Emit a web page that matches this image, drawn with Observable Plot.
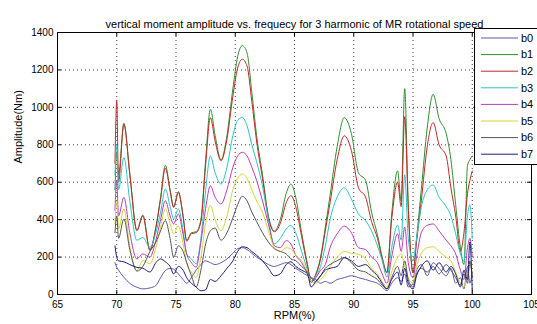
<!DOCTYPE html>
<html><head><meta charset="utf-8">
<script src="https://cdn.jsdelivr.net/npm/d3@7"></script>
<script src="https://cdn.jsdelivr.net/npm/@observablehq/plot@0.6"></script>
<style>
body{margin:0;background:#fff;}
#wrap{position:relative;width:537px;height:324px;overflow:hidden;font-family:"Liberation Sans",Arial,sans-serif;background:#fff;}
#legend{position:absolute;left:474px;top:28px;width:80px;height:137px;background:#fff;border:1px solid #000;box-sizing:border-box;}
#legend svg{display:block;}
</style>
</head><body>
<div id="wrap"><div id="chart"></div><div id="legend"></div></div>
<script>
const title = "vertical moment amplitude vs. frequecy for 3 harmonic of MR rotational speed";
const xLabel = "RPM(%)";
const yLabel = "Amplitude(Nm)";
const xTicks = [65,70,75,80,85,90,95,100,105];
const yTicks = [0,200,400,600,800,1000,1200,1400];
const seriesNames = ["b0","b1","b2","b3","b4","b5","b6","b7"];
const seriesColors = ["#5a5aa8","#2f8f2f","#c02a2a","#2cc4c4","#b83cb8","#d6d632","#555555","#1c1c82"];

const rpm = [69.85,70.0,70.15,70.6,71.1,71.7,72.2,72.8,73.3,73.7,74.1,74.5,74.8,75.2,75.6,75.9,76.3,76.7,77.1,77.5,77.9,78.3,78.8,79.3,79.8,80.2,80.6,81.0,81.4,81.8,82.3,82.8,83.3,83.8,84.3,84.7,85.1,85.6,86.1,86.4,86.8,87.2,87.6,88.0,88.6,89.2,89.8,90.4,91.0,91.5,92.0,92.4,92.8,93.2,93.7,94.0,94.3,94.6,95.0,95.3,95.7,96.2,96.7,97.2,97.8,98.2,98.6,99.0,99.3,99.6,99.8,100.0];
const b0 = [170,146,130,92,60,39,30,35,48,90,128,139,135,110,80,60,90,130,160,180,170,160,170,190,220,245,250,240,220,200,180,160,150,160,170,160,140,120,100,90,80,60,70,60,80,90,100,90,80,70,60,40,20,60,90,70,110,40,60,130,160,100,170,140,100,140,60,90,30,150,60,120];
const b1 = [560,760,640,915,650,345,425,240,360,520,690,560,470,550,420,290,330,335,400,720,990,850,720,850,1100,1270,1330,1290,1080,850,640,420,340,400,540,590,520,330,160,70,110,200,360,530,790,945,860,650,610,440,320,200,120,430,660,500,1100,480,120,300,560,890,1070,940,860,720,480,250,160,690,720,740];
const b2 = [700,1035,600,910,640,340,420,235,355,510,675,555,465,545,415,285,325,330,390,690,945,820,715,830,1060,1210,1257,1220,1030,820,620,410,335,380,490,528,470,310,150,70,105,190,340,490,720,848,770,570,520,390,300,190,115,400,600,470,950,460,115,280,500,790,919,800,740,570,420,230,330,540,610,660];
const b3 = [640,800,560,732,500,290,305,252,330,440,564,470,404,457,340,217,190,164,300,555,741,650,590,680,850,930,946,900,800,710,580,400,270,300,350,368,330,230,128,66,100,150,260,400,520,570,510,430,395,340,260,181,92,250,370,290,640,300,181,300,466,560,585,520,470,420,324,217,180,420,480,300];
const b4 = [450,610,420,519,330,190,217,199,290,400,501,420,377,430,320,217,170,146,280,460,581,520,484,560,680,740,760,740,680,610,500,377,260,250,288,270,210,170,110,66,90,130,160,250,324,365,330,250,240,200,170,110,60,200,324,230,360,170,90,200,330,370,377,340,290,260,217,130,80,250,300,200];
const b5 = [380,500,350,457,260,128,181,164,250,360,457,380,324,368,270,172,120,92,200,380,475,400,341,420,560,620,644,620,560,500,440,341,250,230,250,244,210,181,120,70,60,80,110,150,199,230,220,215,190,140,110,70,40,120,200,217,150,90,60,150,220,250,255,230,200,180,120,60,40,120,160,100];
const b6 = [330,420,300,404,240,125,150,230,280,340,395,300,199,260,230,170,100,40,130,270,340,355,290,330,410,480,525,500,440,390,330,280,245,230,217,190,181,150,120,90,70,100,140,160,181,197,170,130,120,100,80,50,30,90,150,100,180,80,40,110,140,120,150,110,160,130,90,50,110,60,180,90];
const b7 = [260,199,180,175,160,145,140,120,170,190,175,150,110,150,130,90,60,40,20,25,80,70,100,140,180,230,255,250,230,210,180,140,100,110,160,175,150,130,110,40,70,100,130,140,150,197,180,150,160,130,100,60,30,80,120,50,140,60,30,100,150,180,130,170,120,150,110,40,130,80,280,20];

const seriesValues = [b0,b1,b2,b3,b4,b5,b6,b7];
const data = [];
seriesValues.forEach((arr,i)=>arr.forEach((v,j)=>data.push({rpm:rpm[j], amp:v, s:seriesNames[i]})));

const W=537,H=324,mL=57,mR=6,mT=32,mB=30;
const innerW=W-mL-mR, innerH=H-mT-mB, tk=4;
const font='"Liberation Sans",Arial,sans-serif';

const chart = Plot.plot({
  width:W, height:H, marginLeft:mL, marginRight:mR, marginTop:mT, marginBottom:mB,
  style:{fontFamily:font, fontSize:"10px", color:"#000", background:"#fff", overflow:"visible"},
  x:{domain:[65,105], ticks:xTicks, tickSize:0, tickPadding:6, tickFormat:d3.format("d"), label:null},
  y:{domain:[0,1400], ticks:yTicks, tickSize:0, tickPadding:4, tickFormat:d3.format("d"), label:null},
  color:{domain:seriesNames, range:seriesColors},
  marks:[
    Plot.ruleX(xTicks.slice(1,-1), {x:d=>d, stroke:"#000", strokeOpacity:0.75, strokeDasharray:"1,3"}),
    Plot.ruleY(yTicks.slice(1,-1), {y:d=>d, stroke:"#000", strokeOpacity:0.75, strokeDasharray:"1,3"}),
    Plot.line(data, {x:"rpm", y:"amp", z:"s", stroke:"s", strokeWidth:1, curve:"monotone-x"}),
    Plot.frame({stroke:"#000"}),
    Plot.tickX(xTicks, {x:d=>d, insetTop:innerH-tk, stroke:"#000"}),
    Plot.tickX(xTicks, {x:d=>d, insetBottom:innerH-tk, stroke:"#000"}),
    Plot.tickY(yTicks, {y:d=>d, insetRight:innerW-tk, stroke:"#000"}),
    Plot.tickY(yTicks, {y:d=>d, insetLeft:innerW-tk, stroke:"#000"}),
    Plot.text([title], {text:d=>d, frameAnchor:"top", dy:-12, fontSize:11}),
    Plot.text([xLabel], {text:d=>d, frameAnchor:"bottom", dy:24, fontSize:11}),
    Plot.text([yLabel], {text:d=>d, frameAnchor:"left", dx:-39, rotate:-90, fontSize:11})
  ]
});
document.getElementById("chart").appendChild(chart);

// legend
const lg = d3.select("#legend").append("svg").attr("width",80).attr("height",137)
  .style("font-family",font).style("font-size","11px");
seriesNames.forEach((n,i)=>{
  const y = 9 + i*16.6;
  lg.append("line").attr("x1",6).attr("x2",43).attr("y1",y).attr("y2",y)
    .attr("stroke",seriesColors[i]).attr("stroke-width",1);
  lg.append("text").attr("x",46).attr("y",y).attr("dy","0.35em").text(n);
});
</script>
</body></html>
